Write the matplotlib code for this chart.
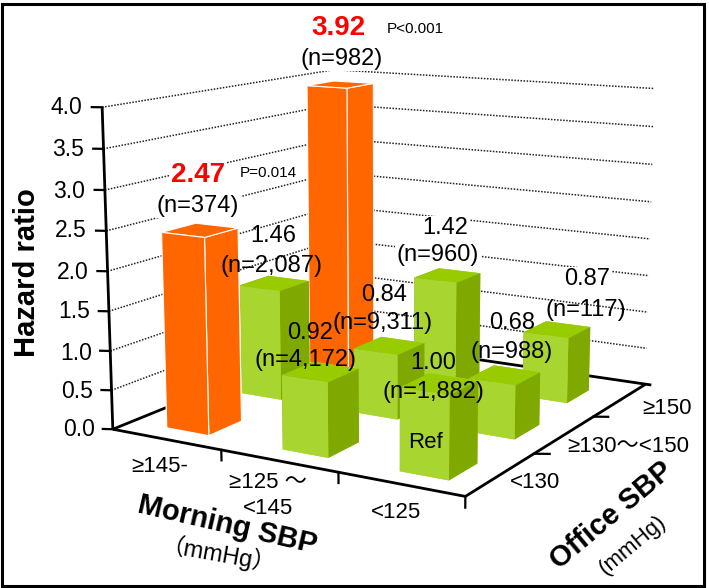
import matplotlib
matplotlib.use("Agg")
import matplotlib.pyplot as plt
from matplotlib.patches import Rectangle

plt.rcParams['font.family'] = ['Liberation Sans', 'Noto Sans CJK JP', 'DejaVu Sans']

# columns: morning SBP, rows: office SBP
morning = ['≥145-', '≥125 ～\n<145', '<125']
office = ['<130', '≥130～<150', '≥150']
hr_ge145 = [2.47, 1.46, 3.92]
hr_125_145 = [0.92, 0.84, 1.42]
hr_lt125 = [1.00, 0.68, 0.87]
n_ge145 = ['(n=374)', '(n=2,087)', '(n=982)']
n_125_145 = ['(n=4,172)', '(n=9,311)', '(n=960)']
n_lt125 = ['(n=1,882)', '(n=988)', '(n=117)']
z_ticks = [0.0, 0.5, 1.0, 1.5, 2.0, 2.5, 3.0, 3.5, 4.0]

hr = [hr_ge145, hr_125_145, hr_lt125]
ns = [n_ge145, n_125_145, n_lt125]

W, H = 709, 588
fig = plt.figure(figsize=(W/100, H/100), dpi=100)
ax = fig.add_axes([0.0401, 0.0539, 1, 1], projection='3d')
ax.set_xlim(0, 3)
ax.set_ylim(0, 3)
ax.set_zlim(0, 4)
ax.view_init(11.6265, -59.8471)
ax.set_proj_type('persp', focal_length=0.555)
ax.set_box_aspect((1, 1.0593, 0.8117), zoom=1.0671)
ax.set_axis_off()
ax.computed_zorder = False
ax.patch.set_alpha(0)

def T(x, y, s, size=17, **kw):
    kw.setdefault('ha', 'center')
    kw.setdefault('va', 'center')
    fig.text(x/W, 1-y/H, s, fontsize=size, **kw)

# back walls
for z in z_ticks[1:]:
    ax.plot([0, 0, 3], [0, 3, 3], [z, z, z], color='#222222', lw=1.1, ls=(0, (1, 1)), zorder=1)

# floor and axes
for xs, ys, zs in [([0, 3], [0, 0], [0, 0]), ([3, 3], [0, 3], [0, 0]), ([0, 0], [0, 3], [0, 0]),
                   ([0, 3.05], [3, 3], [0, 0]), ([0, 0], [0, 0], [0, 4])]:
    ax.plot(xs, ys, zs, color='black', lw=2, zorder=2, solid_capstyle='butt')
for z in z_ticks:
    ax.plot([-0.07, 0], [-0.03, 0], [z, z], color='black', lw=1.6, zorder=2)
for x in [1, 2, 3]:
    ax.plot([x, x], [0, 0], [0, -0.13], color='black', lw=1.6, zorder=2)
for y in [1, 2]:
    ax.plot([3, 3.1], [y, y+0.05], [0, 0], color='black', lw=1.6, zorder=2)

# bars, back row first. the original is hand drawn so the columns do not sit on a strict grid
x_start = [[0.33, 0.27, 0.25], [1.38, 1.34, 1.28], [2.36, 2.34, 2.28]]
order = 10
for j in [2, 1, 0]:
    for i in [0, 1, 2]:
        h = hr[i][j]
        if h > 2:
            c = ['#FF6600']*6
            ec = 'white'
        else:
            c = ['#A9D531', '#99CC00', '#A9D531', '#A9D531', '#7FA800', '#7FA800']
            ec = 'none'
        ax.bar3d(x_start[i][j], j+0.22, 0, 0.39, 0.4, h, color=c, shade=False, edgecolor=ec,
                 linewidth=0.8 if h > 2 else 0, zorder=order)
        order += 1

# value labels
wb = dict(facecolor='white', edgecolor='none', pad=1)
T(338, 28, '3.92', 20, color='#FF0000', fontweight='bold')
T(415, 29, 'P<0.001', 11)
T(342, 59, n_ge145[2], bbox=wb)
T(198, 175, '2.47', 20, color='#FF0000', fontweight='bold', bbox=wb)
T(268, 173, 'P=0.014', 11)
T(198, 206, n_ge145[0], bbox=wb)
T(273, 236, '%.2f' % hr_ge145[1])
T(272, 266, n_ge145[1])
T(384, 295, '%.2f' % hr_125_145[1])
T(383, 323, n_125_145[1])
T(310, 333, '%.2f' % hr_125_145[0])
T(305, 360, n_125_145[0])
T(445, 228, '%.2f' % hr_125_145[2], bbox=wb)
T(438, 255, n_125_145[2], bbox=wb)
T(587, 279, '%.2f' % hr_lt125[2], bbox=wb)
T(586, 310, n_lt125[2])
T(512, 323, '%.2f' % hr_lt125[1])
T(512, 352, n_lt125[1])
T(433, 363, '%.2f' % hr_lt125[0])
T(433, 392, n_lt125[0])
T(426, 443, 'Ref', 16)

# tick labels
for z, y in zip(z_ticks, [430, 392, 354, 312, 272, 231, 191, 149, 108]):
    T(82+(y-108)/322*13, y, '%.1f' % z, 16.5, ha='right')
T(160, 467, morning[0], 16)
T(268, 482, morning[1].split('\n')[0], 16)
T(268, 509, morning[1].split('\n')[1], 16)
T(396, 512, morning[2], 16)
T(535, 482, office[0], 16)
T(628, 447, office[1], 16)
T(667, 409, office[2], 16)

# axis titles
T(27, 273, 'Hazard ratio', 21, rotation=90, fontweight='bold')
T(227, 525, 'Morning SBP', 21, rotation=-13, fontweight='bold')
T(218, 557, '（mmHg）', 17, rotation=-10)
T(612, 515, 'Office SBP', 21, rotation=40, fontweight='bold')
T(633, 545, '(mmHg)', 16, rotation=40)

# outer frame
fig.add_artist(Rectangle((1.5/W, 1-585.5/H), 702.5/W, 582/H, transform=fig.transFigure,
                         fill=False, edgecolor='black', lw=2.2))

fig.savefig('out.png', dpi=100)
